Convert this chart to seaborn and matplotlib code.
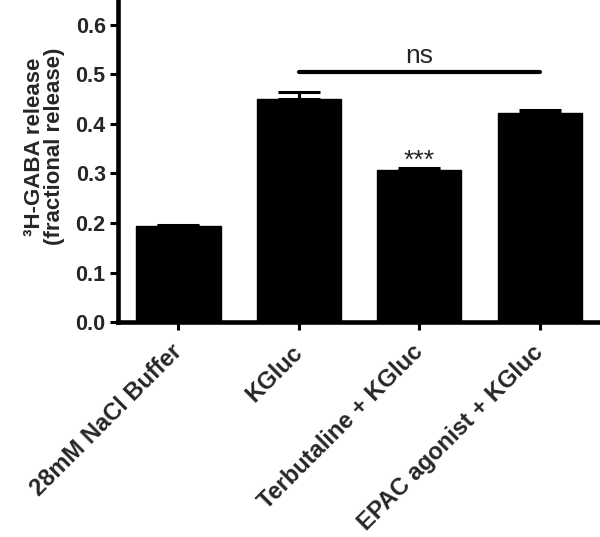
import matplotlib
matplotlib.use("Agg")
import matplotlib.pyplot as plt
import seaborn as sns

# values
groups = ["28mM NaCl Buffer", "KGluc", "Terbutaline + KGluc", "EPAC agonist + KGluc"]
release = [0.194, 0.450, 0.308, 0.422]
sem = [0.002, 0.014, 0.003, 0.007]

sns.set_style("ticks")
plt.rcParams["font.family"] = ["Liberation Sans", "DejaVu Sans"]

fig = plt.figure(figsize=(6, 5.37), dpi=100)
ax = fig.add_axes([0.197, 0.4, 0.803, 0.6])

sns.barplot(x=groups, y=release, color="black", width=0.7, errorbar=None,
            saturation=1, edgecolor="black", ax=ax)
ax.errorbar(range(len(groups)), release, yerr=[[0] * len(sem), sem],
            fmt="none", ecolor="black", elinewidth=2.2, capsize=15, capthick=2.2)

ax.set_ylim(0, 0.65)
ax.set_xlim(-0.5, 3.5)
ax.set_yticks([0.0, 0.1, 0.2, 0.3, 0.4, 0.5, 0.6])
ax.set_yticklabels([f"{v:.1f}" for v in ax.get_yticks()], fontsize=15.5, fontweight="bold")
ax.set_xticks(range(len(groups)))
ax.set_xticklabels(groups, rotation=45, ha="right", va="center", rotation_mode="anchor",
                   fontsize=17, fontweight="bold")
ax.tick_params(axis="both", length=6, width=2.2, color="black")
ax.tick_params(axis="x", pad=13)
ax.tick_params(axis="y", pad=3)

for s in ["top", "right"]:
    ax.spines[s].set_visible(False)
for s in ["left", "bottom"]:
    ax.spines[s].set_linewidth(3.3)
    ax.spines[s].set_color("black")

ax.set_ylabel("³H-GABA release\n(fractional release)", fontsize=16, fontweight="bold",
              linespacing=0.95)
ax.yaxis.set_label_coords(-0.11, 0.545)
ax.set_xlabel("")

# significance marks
ax.plot([1, 3], [0.505, 0.505], color="black", lw=3, solid_capstyle="round")
ax.text(2, 0.522, "ns", ha="center", va="baseline", fontsize=19)
ax.text(2, 0.312, "***", ha="center", va="baseline", fontsize=19)

fig.savefig("out.png", dpi=100)
